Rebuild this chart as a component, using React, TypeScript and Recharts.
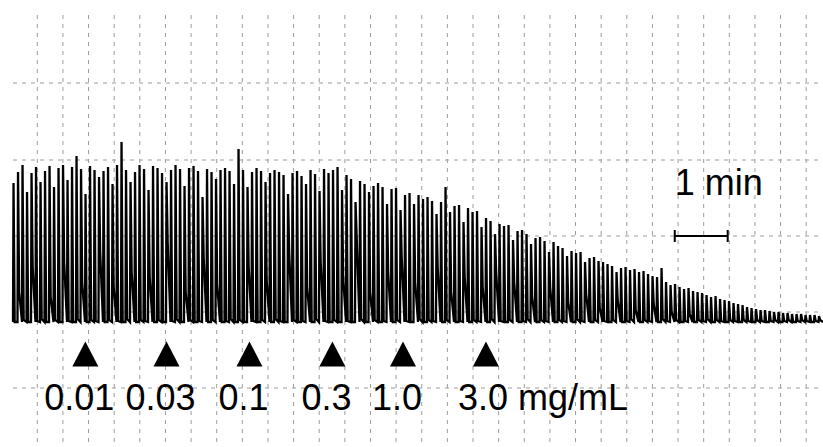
import {
  ComposedChart,
  Line,
  ReferenceArea,
  ReferenceDot,
  ReferenceLine,
  XAxis,
  YAxis,
} from 'recharts';

// Twitch trace: peak and relaxation minimum of each contraction (arbitrary units above
// baseline), one contraction every PERIOD_S seconds.
const PEAKS = [
  139, 150, 157, 130, 149, 155, 140, 151, 156, 135,
  154, 157, 142, 155, 166, 153, 128, 156, 152, 145,
  151, 155, 138, 157, 180, 152, 140, 150, 157, 153,
  132, 156, 154, 149, 140, 152, 157, 153, 136, 154,
  156, 151, 125, 153, 150, 143, 152, 154, 151, 138,
  173, 152, 135, 150, 154, 151, 140, 149, 152, 150,
  147, 128, 149, 151, 146, 138, 152, 148, 131, 153,
  149, 152, 155, 132, 147, 143, 120, 141, 138, 130,
  136, 139, 135, 118, 133, 134, 112, 127, 129, 118,
  127, 123, 125, 121, 108, 120, 135, 110, 116, 117,
  100, 114, 110, 111, 95, 104, 101, 88, 98, 96,
  97, 82, 91, 92, 88, 78, 84, 85, 81, 70,
  80, 76, 74, 66, 71, 69, 70, 60, 64, 65,
  61, 60, 58, 56, 50, 54, 55, 52, 53, 50,
  51, 48, 46, 45, 54, 40, 37, 38, 35, 33,
  34, 31, 30, 29, 27, 25, 26, 23, 22, 21,
  19, 18, 17, 15, 14, 13, 12, 12, 11, 10,
  10, 9, 9, 8, 8, 8, 7, 7, 7, 6,
];

const TROUGHS = [
  0, 30, 2, 0, 55, 1, 3, 0, 25, 2,
  0, 60, 1, 0, 3, 40, 0, 2, 1, 70,
  0, 2, 35, 1, 0, 3, 50, 0, 2, 1,
  45, 0, 2, 0, 80, 1, 3, 0, 30, 2,
  0, 1, 65, 0, 2, 38, 0, 1, 3, 0,
  2, 0, 55, 1, 0, 2, 42, 0, 3, 1,
  0, 70, 2, 0, 1, 35, 0, 3, 60, 1,
  0, 2, 0, 45, 1, 0, 85, 3, 0, 30,
  2, 0, 1, 50, 0, 2, 65, 1, 0, 40,
  3, 0, 2, 1, 55, 0, 2, 30, 0, 1,
  45, 0, 2, 1, 35, 0, 3, 50, 1, 0,
  2, 40, 0, 1, 3, 25, 0, 2, 1, 35,
  0, 2, 1, 20, 0, 3, 1, 28, 0, 2,
  15, 1, 0, 2, 22, 0, 1, 3, 12, 0,
  2, 1, 18, 0, 3, 1, 10, 2, 0, 1,
  8, 0, 2, 1, 3, 0, 2, 1, 0, 2,
  1, 0, 2, 1, 0, 2, 1, 0, 1, 2,
  0, 1, 2, 0, 1, 2, 1, 0, 1, 2,
];

const BASELINE = 0;
const PERIOD_S = 5.1;
const RISE_S = 0.6;
const FALL_S = 1.9;

// drug additions (s) and cumulative concentrations
const DOSE_TIMES = [82, 174, 268, 362, 442, 536];
const DOSE_LABELS = ['0.01', '0.03', '0.1', '0.3', '1.0', '3.0 mg/mL'];

const SCALE_START_S = 750;
const SCALE_LEN_S = 60;

const W = 823;
const H = 447;
const FONT = '"Liberation Sans", Arial, sans-serif';
const GRID_STROKE = '#9c9c9c';

const T_MIN = -14.73;
const T_MAX = 918;
const V_MIN = -125;
const V_MAX = 322;

// page pixel -> axis units, used only for the background grid and white label boxes
const tx = (px: number) => T_MIN + (px / W) * (T_MAX - T_MIN);
const vy = (py: number) => V_MAX - (py / H) * (V_MAX - V_MIN);

const GRID_X = Array.from({ length: 31 }, (_, k) => 37.3 + k * 25.63);
const GRID_Y = [83, 160, 236, 312, 388];

// each twitch: rise from baseline -> peak -> relaxation minimum, then drift back to baseline
const trace = PEAKS.flatMap((p, i) => [
  { t: i * PERIOD_S, v: BASELINE },
  { t: i * PERIOD_S + RISE_S, v: p },
  { t: i * PERIOD_S + FALL_S, v: TROUGHS[i] },
]).concat([{ t: PEAKS.length * PERIOD_S, v: BASELINE }]);

function Triangle({ cx, cy }: { cx: number; cy: number }) {
  return <polygon points={`${cx - 13},${cy + 12.5} ${cx + 13},${cy + 12.5} ${cx},${cy - 12.5}`} fill="#000" />;
}

function DoseLabel({ cx, cy, text }: { cx: number; cy: number; text: string }) {
  const last = text.includes('mg');
  return (
    <text
      x={last ? cx - 28 : cx - 6}
      y={cy + 56}
      textAnchor={last ? 'start' : 'middle'}
      fontFamily={FONT}
      fontSize={36}
      fill="#000"
    >
      {text}
    </text>
  );
}

const axisProps = { xAxisId: 't', yAxisId: 'amp' };

export default function App() {
  return (
    <div style={{ position: 'fixed', left: 0, top: 0, width: W, height: H, background: '#fff' }}>
      <ComposedChart width={W} height={H} data={trace} margin={{ top: 0, right: 0, bottom: 0, left: 0 }}>
        <XAxis xAxisId="t" dataKey="t" type="number" domain={[T_MIN, T_MAX]} allowDataOverflow hide />
        <YAxis yAxisId="amp" type="number" domain={[V_MIN, V_MAX]} allowDataOverflow hide />

        {GRID_X.map((x) => (
          <ReferenceLine
            key={`gx${x}`}
            {...axisProps}
            segment={[{ x: tx(x), y: vy(15) }, { x: tx(x), y: vy(H) }]}
            stroke={GRID_STROKE}
            strokeDasharray="4 5"
          />
        ))}
        {GRID_Y.map((y) => (
          <ReferenceLine
            key={`gy${y}`}
            {...axisProps}
            segment={[{ x: tx(13), y: vy(y) }, { x: tx(W), y: vy(y) }]}
            stroke={GRID_STROKE}
            strokeDasharray="4 5"
          />
        ))}

        <ReferenceArea {...axisProps} x1={tx(70)} x2={tx(535)} y1={vy(373)} y2={vy(335)} fill="#fff" fillOpacity={1} stroke="none" />
        <ReferenceArea {...axisProps} x1={tx(40)} x2={tx(650)} y1={vy(416)} y2={vy(373)} fill="#fff" fillOpacity={1} stroke="none" />

        <Line
          {...axisProps}
          dataKey="v"
          type="linear"
          stroke="#000"
          strokeWidth={2.3}
          dot={false}
          activeDot={false}
          isAnimationActive={false}
        />

        {DOSE_TIMES.map((t, i) => (
          <ReferenceDot
            key={`d${t}`}
            {...axisProps}
            x={t}
            y={-32}
            shape={(p: any) => (
              <g>
                <Triangle cx={p.cx} cy={p.cy} />
                <DoseLabel cx={p.cx} cy={p.cy} text={DOSE_LABELS[i]} />
              </g>
            )}
          />
        ))}

        {/* 1 min scale bar */}
        <ReferenceLine
          {...axisProps}
          segment={[{ x: SCALE_START_S, y: 86 }, { x: SCALE_START_S + SCALE_LEN_S, y: 86 }]}
          stroke="#000"
          strokeWidth={2}
        />
        <ReferenceLine
          {...axisProps}
          segment={[{ x: SCALE_START_S, y: 80 }, { x: SCALE_START_S, y: 92 }]}
          stroke="#000"
          strokeWidth={2}
        />
        <ReferenceLine
          {...axisProps}
          segment={[{ x: SCALE_START_S + SCALE_LEN_S, y: 80 }, { x: SCALE_START_S + SCALE_LEN_S, y: 92 }]}
          stroke="#000"
          strokeWidth={2}
        />
        <ReferenceDot
          {...axisProps}
          x={SCALE_START_S}
          y={86}
          shape={(p: any) => (
            <text x={p.cx} y={p.cy - 41} fontFamily={FONT} fontSize={36} fill="#000">
              1 min
            </text>
          )}
        />
      </ComposedChart>
    </div>
  );
}
